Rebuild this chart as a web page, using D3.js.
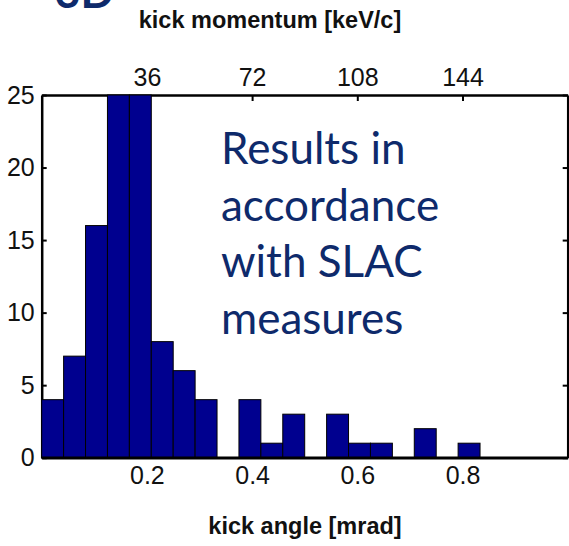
<!DOCTYPE html>
<html>
<head>
<meta charset="utf-8">
<script src="https://cdn.jsdelivr.net/npm/d3@7"></script>
<style>
  body { margin: 0; background: #fff; }
  svg { display: block; }
</style>
</head>
<body>
<div id="chart"></div>
<script>
// histogram counts, 24 bins from 0 to 1 mrad (bins 4 and 5 run past the top)
var binCounts = [4, 7, 16, 25, 25, 8, 6, 4, 0, 4, 1, 3, 0, 3, 1, 1, 0, 2, 0, 1, 0, 0, 0, 0];
var binStart = 0, binEnd = 1;
var angleTicks = [0.2, 0.4, 0.6, 0.8];
var momentumLabels = ["36", "72", "108", "144"];
var countTicks = [0, 5, 10, 15, 20, 25];
var annotation = ["Results in", "accordance", "with SLAC", "measures"];

let drawChart = () =>
{
var W = 569, H = 546;
var plotL = 41.7, plotR = 567.7, plotT = 95, plotB = 457.7;

var svg = d3.select("#chart").append("svg")
  .attr("width", W)
  .attr("height", H);

var x = d3.scaleLinear().domain([binStart, binEnd]).range([plotL, plotR]);
var y = d3.scaleLinear().domain([0, 25]).range([plotB, plotT]);

var binW = (binEnd - binStart) / binCounts.length;
var bins = binCounts.map((c, i) => ({x0: binStart + i * binW, x1: binStart + (i + 1) * binW, n: c}));

var tickFont = "Liberation Sans, Arial, Helvetica, sans-serif";

// axes first (matlab draws them below the patches)
svg.append("g")
  .attr("transform", "translate(" + plotL + ",0)")
  .call(d3.axisLeft(y).tickValues(countTicks).tickSize(-5).tickPadding(7).tickSizeOuter(0));

svg.append("g")
  .attr("transform", "translate(" + plotR + ",0)")
  .call(d3.axisRight(y).tickValues(countTicks).tickSize(-5).tickFormat("").tickSizeOuter(0));

svg.append("g")
  .attr("transform", "translate(0," + plotB + ")")
  .call(d3.axisBottom(x).tickValues(angleTicks).tickSize(-5).tickPadding(9).tickSizeOuter(0)
    .tickFormat(d3.format(".1f")));

svg.append("g")
  .attr("transform", "translate(0," + plotT + ")")
  .call(d3.axisTop(x).tickValues(angleTicks).tickSize(-6).tickPadding(9).tickSizeOuter(0)
    .tickFormat((d, i) => momentumLabels[i]));

svg.selectAll(".tick line").attr("stroke", "#000").attr("stroke-width", 2);
svg.selectAll(".domain").attr("stroke", "#000").attr("stroke-width", 2.5);
svg.selectAll(".tick text")
  .attr("fill", "#111")
  .style("font-family", tickFont)
  .style("font-size", "25px");

// bars
svg.append("g").selectAll("rect")
  .data(bins)
  .enter()
  .append("rect")
  .attr("x", d => x(d.x0))
  .attr("y", d => y(d.n))
  .attr("width", d => x(d.x1) - x(d.x0))
  .attr("height", d => y(0) - y(d.n))
  .attr("fill", "#00008f")
  .attr("stroke", "#000")
  .attr("stroke-width", 1);

// baseline on top so the empty bins show as a line
svg.append("line")
  .attr("x1", plotL).attr("x2", plotR)
  .attr("y1", plotB).attr("y2", plotB)
  .attr("stroke", "#000").attr("stroke-width", 2.5);

// axis titles
svg.append("text")
  .attr("x", 270).attr("y", 28)
  .attr("text-anchor", "middle")
  .style("font-family", tickFont)
  .style("font-weight", "bold")
  .style("font-size", "23.5px")
  .attr("fill", "#111")
  .text("kick momentum [keV/c]");

svg.append("text")
  .attr("x", 305).attr("y", 534)
  .attr("text-anchor", "middle")
  .style("font-family", tickFont)
  .style("font-weight", "bold")
  .style("font-size", "23.5px")
  .attr("fill", "#111")
  .text("kick angle [mrad]");

// cut off slide title fragment in the corner
svg.append("text")
  .attr("x", 55).attr("y", 8)
  .style("font-family", "Lato, sans-serif")
  .style("font-weight", "bold")
  .style("font-size", "44px")
  .attr("fill", "#0e2a6b")
  .text("3D");

// annotation
svg.append("g").selectAll("text")
  .data(annotation)
  .enter()
  .append("text")
  .attr("x", 221)
  .attr("y", (d, i) => 164 + i * 56.7)
  .style("font-family", "Lato, sans-serif")
  .style("font-size", "44px")
  .attr("fill", "#0e2a6b")
  .text(d => d);
}

drawChart();
</script>
</body>
</html>
